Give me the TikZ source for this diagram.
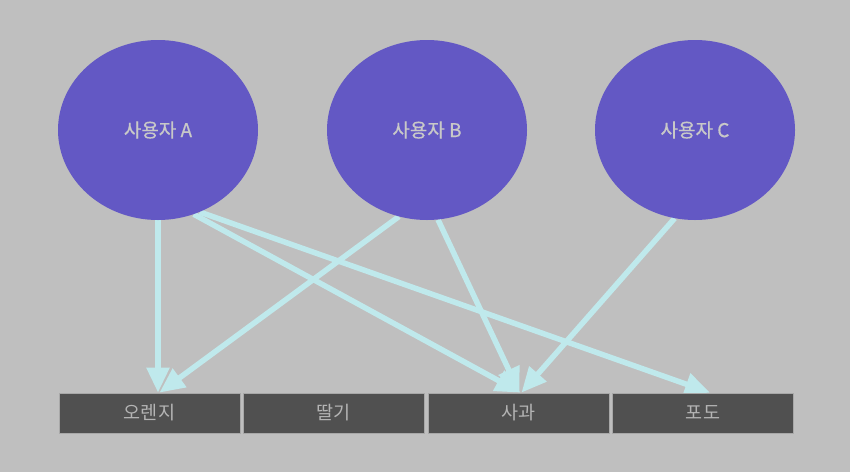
\documentclass[tikz,border=0pt]{standalone}
\usepackage{fontspec}
\setmainfont{Noto Sans CJK KR}
\newfontfamily\medfont[FakeBold=0.6]{Noto Sans CJK KR}
\usetikzlibrary{shapes.geometric,arrows.meta,backgrounds}
\definecolor{bgc}{HTML}{BFBFBF}
\definecolor{userc}{HTML}{6358C4}
\definecolor{usertxt}{HTML}{C8C8C8}
\definecolor{boxc}{HTML}{505050}
\definecolor{boxline}{HTML}{A8A8A8}
\definecolor{boxtxt}{HTML}{B4B4B4}
\definecolor{edgec}{HTML}{BFE9EC}
\begin{document}
\begin{tikzpicture}[x=1pt,y=1pt,
  user/.style={ellipse,fill=userc,draw=none,minimum width=200pt,minimum height=180pt,inner sep=0pt,
    text=usertxt,font=\fontsize{19}{22}\medfont},
  fruit/.style={rectangle,fill=boxc,draw=boxline,line width=0.8pt,minimum width=181pt,minimum height=40pt,
    inner sep=0pt,text=boxtxt,font=\fontsize{18.5}{22}\selectfont},
  link/.style={draw=edgec,line width=5.5pt,-{Triangle[length=25pt,width=22pt]}}]
\useasboundingbox (0,0) rectangle (850,-472);
\node[user] (A) at (158,-130) {사용자 A};
\node[user] (B) at (427,-130) {사용자 B};
\node[user] (C) at (695,-130) {사용자 C};
\node[fruit] (o) at (149.5,-413) {오렌지};
\node[fruit] (s) at (333.5,-413) {딸기};
\node[fruit] (p) at (518.5,-413) {사과};
\node[fruit] (g) at (703,-413) {포도};
\begin{scope}[on background layer]
\fill[bgc] (0,0) rectangle (850,-472);
\path[link] (A.south) -- ([xshift=8.5pt]o.north);
\path[link] (A.-67) -- ([xshift=2pt]p.north);
\path[link] (A.-63) -- ([xshift=7pt]g.north);
\path[link] (B.-108) -- ([xshift=10pt]o.north);
\path[link] (B.-83) -- ([xshift=1pt]p.north);
\path[link] (C.-103) -- ([xshift=3pt]p.north);
\end{scope}
\end{tikzpicture}
\end{document}
